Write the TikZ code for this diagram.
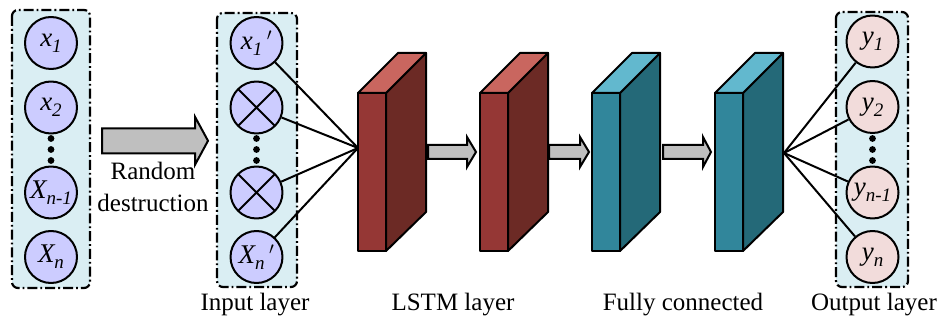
\documentclass[tikz,border=0pt]{standalone}
\usepackage{fontspec}
\setmainfont{Liberation Serif}
\definecolor{boxfill}{HTML}{DAEEF3}
\definecolor{lav}{HTML}{CCCCFF}
\definecolor{pinkc}{HTML}{F2DCDB}
\definecolor{redF}{HTML}{953735}
\definecolor{redS}{HTML}{6C2A25}
\definecolor{redT}{HTML}{C9665F}
\definecolor{tealF}{HTML}{31869B}
\definecolor{tealS}{HTML}{246978}
\definecolor{tealT}{HTML}{62B8CE}
\definecolor{arrg}{HTML}{BFBFBF}
\newcommand\sbs[1]{\raisebox{-0.22em}{\fontsize{19}{19}\selectfont #1}}
\newcommand\slab[5]{%
  \draw[fill=#4] (#2+28,93) -- (#2+68,53) -- (#2+68,212) -- (#2+28,251) -- cycle;
  \draw[fill=#5] (#2,93) -- (#2+40,53) -- (#2+68,53) -- (#2+28,93) -- cycle;
  \node[draw, fill=#3, minimum width=28, minimum height=158, inner sep=0, outer sep=0, anchor=north west] (#1) at (#2,93) {};}
\newcommand\barrow[6]{%
  \draw[fill=arrg, line width=2pt, line join=miter] (#1,#4-#5) -- (#3,#4-#5) -- (#3,#4-#6) -- (#2,#4) -- (#3,#4+#6) -- (#3,#4+#5) -- (#1,#4+#5) -- cycle;}
\begin{document}
\begin{tikzpicture}[x=1pt,y=-1pt, line width=2pt, line join=round,
  grp/.style={draw, fill=boxfill, rounded corners=6, line width=2.2pt, dash pattern=on 10pt off 3pt on 1.8pt off 3pt},
  neur/.style={circle, draw, line width=2pt, minimum size=52, inner sep=0, fill=lav, font=\fontsize{27}{30}\selectfont\itshape},
  outn/.style={neur, fill=pinkc},
  crossn/.style={neur, path picture={\draw[line width=2pt] (path picture bounding box.north west) -- (path picture bounding box.south east) (path picture bounding box.north east) -- (path picture bounding box.south west);}},
  lbl/.style={font=\fontsize{25}{30}\selectfont, anchor=base, inner sep=0},
  conn/.style={line width=2pt}]
\useasboundingbox (0,0) rectangle (942,320);
% groups
\draw[grp] (12,10) rectangle (90,288);
\draw[grp] (217,13) rectangle (297,287);
\draw[grp] (836,12) rectangle (908,287);
% left column
\node[neur] (a1) at (51,43) {x\sbs{\itshape 1}};
\node[neur] (a2) at (51,107.5) {x\sbs{2}};
\node[neur] (a3) at (51,192.5) {X\sbs{\itshape n-1}};
\node[neur] (a4) at (51,257) {X\sbs{\itshape n}};
\foreach \yy in {138.5,149.5,160.5} \fill (51,\yy) circle (3.4);
% input column
\node[neur] (b1) at (256.5,43) {x\sbs{\itshape 1}\,$'$};
\node[crossn] (b2) at (256.5,107.5) {};
\node[crossn] (b3) at (256.5,192.5) {};
\node[neur] (b4) at (256.5,257) {X\sbs{\itshape n}\,$'$};
\foreach \yy in {138.5,149.5,160.5} \fill (256.5,\yy) circle (3.4);
% output column
\node[outn] (c1) at (872.5,41.5) {y\sbs{\itshape 1}};
\node[outn] (c2) at (872.5,107) {y\sbs{2}};
\node[outn] (c3) at (872.5,192.5) {y\sbs{\itshape n-1}};
\node[outn] (c4) at (872.5,257) {y\sbs{\itshape n}};
\foreach \yy in {138.5,149.5,160.5} \fill (872.5,\yy) circle (3.4);
% big arrow
\barrow{102}{208}{195}{140.8}{12.5}{24}
\node[lbl] (rnd) at (153,180) {Random};
\node[lbl] (dst) at (153,212) {destruction};
% blocks
\slab{l1}{358}{redF}{redS}{redT}
\slab{l2}{480}{redF}{redS}{redT}
\slab{f1}{592}{tealF}{tealS}{tealT}
\slab{f2}{715}{tealF}{tealS}{tealT}
\barrow{428}{476}{467}{152}{7}{15}
\barrow{549}{589}{580}{152}{7}{15}
\barrow{663}{711}{703}{152}{7}{15}
% connectors
\coordinate (inpt) at (358,148);
\coordinate (outpt) at (784,153);
\foreach \n in {b1,b2,b3,b4} \draw[conn] (\n) -- (inpt);
\foreach \n in {c1,c2,c3,c4} \draw[conn] (outpt) -- (\n);
% labels
\node[lbl] (li) at (255,310) {Input layer};
\node[lbl] (ll) at (453,310) {LSTM layer};
\node[lbl] (lf) at (683,310) {Fully connected};
\node[lbl] (lo) at (874,310) {Output layer};
\end{tikzpicture}
\end{document}
